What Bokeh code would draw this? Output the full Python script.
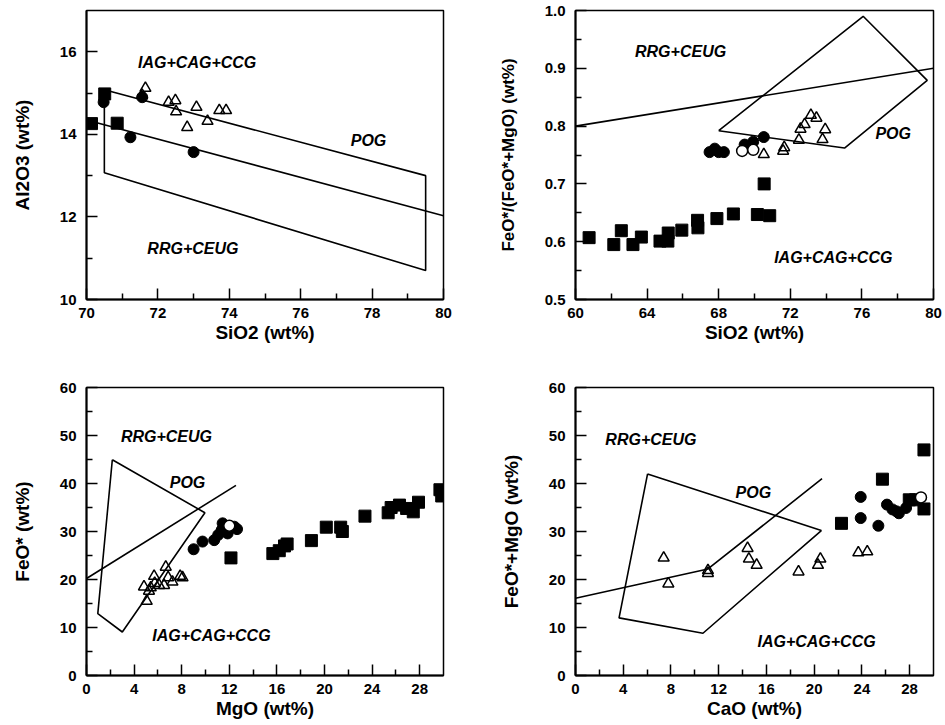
from bokeh.plotting import figure
from bokeh.layouts import column, row
from bokeh.models import FixedTicker, PrintfTickFormatter
from bokeh.core.properties import value
from bokeh.embed import file_html
from bokeh.resources import INLINE

FONT = "Liberation Sans"

# ---------------- Panel A: SiO2 vs Al2O3 ----------------
a_sq_x = [70.14, 70.51, 70.86]
a_sq_y = [14.26, 14.98, 14.27]
a_ci_x = [70.48, 71.56, 71.23, 73.0]
a_ci_y = [14.78, 14.9, 13.93, 13.57]
a_tr_x = [71.65, 71.56, 72.3, 72.49, 72.51, 73.08, 72.82, 73.39, 73.72, 73.91]
a_tr_y = [15.12, 14.95, 14.78, 14.82, 14.55, 14.66, 14.17, 14.32, 14.58, 14.58]
a_pog_x = [70.5, 79.5, 79.5, 70.5, 70.5]
a_pog_y = [15.08, 13.0, 10.7, 13.07, 15.08]
a_div_x = [70.0, 80.0]
a_div_y = [14.35, 12.03]
a_lab_x = [73.1, 77.9, 72.98]
a_lab_y = [15.75, 13.85, 11.23]
a_lab_t = ["IAG+CAG+CCG", "POG", "RRG+CEUG"]

# ---------------- Panel B: SiO2 vs FeO*/(FeO*+MgO) ----------------
b_sq_x = [60.76, 62.14, 62.56, 63.21, 63.68, 64.72, 65.16, 65.18, 65.94, 66.82, 66.84, 67.9, 68.82, 70.16, 70.85, 70.54]
b_sq_y = [0.607, 0.595, 0.619, 0.595, 0.608, 0.601, 0.601, 0.615, 0.62, 0.637, 0.624, 0.64, 0.648, 0.647, 0.645, 0.70]
b_ci_x = [67.49, 67.78, 68.0, 68.29, 69.45, 69.93, 70.52]
b_ci_y = [0.755, 0.761, 0.755, 0.755, 0.768, 0.773, 0.781]
b_oc_x = [69.31, 69.93]
b_oc_y = [0.757, 0.759]
b_tr_x = [70.52, 71.6, 71.66, 72.48, 72.57, 72.8, 73.15, 73.46, 73.95, 73.8]
b_tr_y = [0.751, 0.757, 0.763, 0.776, 0.795, 0.803, 0.819, 0.814, 0.794, 0.777]
b_pog_x = [68.0, 76.07, 79.65, 75.03, 68.0]
b_pog_y = [0.792, 0.99, 0.879, 0.762, 0.792]
b_div_x = [60.0, 80.0]
b_div_y = [0.80, 0.90]
b_lab_x = [65.87, 77.75, 74.4]
b_lab_y = [0.929, 0.788, 0.573]
b_lab_t = ["RRG+CEUG", "POG", "IAG+CAG+CCG"]

# ---------------- Panel C: MgO vs FeO* ----------------
c_sq_x = [12.14, 15.66, 16.2, 16.64, 16.86, 18.9, 20.15, 21.36, 21.5, 23.4, 25.35, 25.6, 26.3, 26.9, 27.46, 27.9, 29.7, 29.85]
c_sq_y = [24.5, 25.4, 26.0, 27.0, 27.4, 28.1, 30.9, 30.9, 30.0, 33.2, 33.9, 35.0, 35.5, 34.8, 34.1, 36.1, 38.7, 37.4]
c_ci_x = [9.0, 9.75, 10.73, 11.07, 11.44, 11.36, 11.86, 12.42, 12.65, 11.6]
c_ci_y = [26.3, 27.9, 28.2, 29.3, 31.7, 30.3, 29.6, 31.0, 30.5, 30.8]
c_oc_x = [12.0]
c_oc_y = [31.2]
c_tr_x = [6.66, 5.68, 4.83, 5.06, 6.52, 6.86, 7.22, 7.87, 8.07, 5.4, 5.73, 6.1, 5.25]
c_tr_y = [22.6, 20.7, 18.5, 15.5, 18.8, 20.4, 19.5, 20.7, 20.4, 18.3, 19.2, 18.8, 17.6]
c_pog_x = [2.17, 9.95, 3.01, 0.95, 2.17]
c_pog_y = [44.95, 33.9, 9.06, 12.9, 44.95]
c_div_x = [0.0, 12.56]
c_div_y = [20.2, 39.6]
c_lab_x = [6.72, 8.49, 10.5]
c_lab_y = [49.7, 40.3, 8.4]
c_lab_t = ["RRG+CEUG", "POG", "IAG+CAG+CCG"]

# ---------------- Panel D: CaO vs FeO*+MgO ----------------
d_sq_x = [22.29, 25.72, 29.2, 29.2, 27.97, 28.5]
d_sq_y = [31.7, 40.9, 47.0, 34.7, 36.6, 36.6]
d_ci_x = [23.9, 23.9, 25.38, 26.1, 26.56, 27.1, 27.7, 26.9]
d_ci_y = [37.2, 32.8, 31.2, 35.6, 34.6, 33.8, 34.9, 34.2]
d_oc_x = [28.95]
d_oc_y = [37.1]
d_tr_x = [7.39, 7.78, 11.1, 11.1, 14.42, 14.53, 15.18, 18.69, 20.32, 20.52, 23.7, 24.45]
d_tr_y = [24.5, 19.1, 21.9, 21.3, 26.5, 24.3, 23.0, 21.6, 23.0, 24.3, 25.6, 25.8]
d_pog_x = [6.04, 20.6, 10.68, 3.65, 6.04]
d_pog_y = [42.0, 30.2, 8.8, 12.0, 42.0]
d_div_x = [0.0, 11.1, 20.66]
d_div_y = [16.1, 22.2, 41.0]
d_lab_x = [6.32, 14.9, 20.2]
d_lab_y = [49.2, 38.2, 7.1]
d_lab_t = ["RRG+CEUG", "POG", "IAG+CAG+CCG"]


def make_fig(width, height, xr, yr, borders, xt, xmt, yt, ymt, xlab, ylab, yfmt=None, ylab_size="19px"):
    mbl, mbr, mbt, mbb = borders
    p = figure(width=width, height=height, x_range=xr, y_range=yr,
               output_backend="svg", toolbar_location=None,
               min_border_left=mbl, min_border_right=mbr,
               min_border_top=mbt, min_border_bottom=mbb)
    p.xgrid.visible = False
    p.ygrid.visible = False
    p.outline_line_color = "black"
    p.outline_line_width = 1.5
    p.background_fill_color = "white"
    p.border_fill_color = "white"
    p.xaxis.ticker = FixedTicker(ticks=xt, minor_ticks=xmt)
    p.yaxis.ticker = FixedTicker(ticks=yt, minor_ticks=ymt)
    if yfmt:
        p.yaxis.formatter = PrintfTickFormatter(format=yfmt)
    p.xaxis.axis_label = xlab
    p.yaxis.axis_label = ylab
    for ax in p.axis:
        ax.major_tick_in = 11
        ax.major_tick_out = 0
        ax.minor_tick_in = 6
        ax.minor_tick_out = 0
        ax.axis_line_width = 2
        ax.major_tick_line_width = 1.5
        ax.minor_tick_line_width = 1.5
        ax.axis_line_color = "black"
        ax.major_tick_line_color = "black"
        ax.minor_tick_line_color = "black"
        ax.major_label_text_font = FONT
        ax.major_label_text_font_size = "15px"
        ax.major_label_text_font_style = "bold"
        ax.major_label_text_color = "black"
        ax.axis_label_text_font = FONT
        ax.axis_label_text_font_size = "19px"
        ax.axis_label_text_font_style = "bold"
        ax.axis_label_text_color = "black"
    p.yaxis.axis_label_text_font_size = ylab_size
    p.xaxis.major_label_standoff = 8
    p.xaxis.axis_label_standoff = 1
    p.yaxis.major_label_standoff = 10
    p.yaxis.axis_label_standoff = 24
    return p


def draw(p, pog_x, pog_y, div_x, div_y, sq, ci, oc, tr, labs):
    p.line(pog_x, pog_y, line_color="black", line_width=1.6)
    p.line(div_x, div_y, line_color="black", line_width=1.6)
    if sq:
        p.scatter(sq[0], sq[1], marker="square", size=12, fill_color="black", line_color="black")
    if ci:
        p.scatter(ci[0], ci[1], marker="circle", size=11, fill_color="black", line_color="black")
    if oc:
        p.scatter(oc[0], oc[1], marker="circle", size=11, fill_color="white", line_color="black", line_width=1.5)
    if tr:
        p.scatter(tr[0], tr[1], marker="triangle", size=11, fill_color=None, line_color="black", line_width=1.5)
    p.text(labs[0], labs[1], text=labs[2], text_font=value(FONT), text_font_style="bold italic",
           text_font_size="16px", text_align="center", text_baseline="middle", text_color="black")


LW, RW = 488, 455
TH, BH = 374, 349
L_B = (86, 45)
R_B = (87, 10)
T_B = (10, 75)
B_B = (13, 48)

pA = make_fig(LW, TH, (70, 80), (10, 17), L_B + T_B,
              [70, 72, 74, 76, 78, 80], [71, 73, 75, 77, 79],
              [10, 12, 14, 16], [11, 13, 15],
              "SiO2 (wt%)", "Al2O3 (wt%)")
draw(pA, a_pog_x, a_pog_y, a_div_x, a_div_y, (a_sq_x, a_sq_y), (a_ci_x, a_ci_y), None,
     (a_tr_x, a_tr_y), (a_lab_x, a_lab_y, a_lab_t))

pB = make_fig(RW, TH, (60, 80), (0.5, 1.0), R_B + T_B,
              [60, 64, 68, 72, 76, 80], [62, 66, 70, 74, 78],
              [0.5, 0.6, 0.7, 0.8, 0.9, 1.0], [0.55, 0.65, 0.75, 0.85, 0.95],
              "SiO2 (wt%)", "FeO*/(FeO*+MgO) (wt%)", yfmt="%.1f", ylab_size="17px")
draw(pB, b_pog_x, b_pog_y, b_div_x, b_div_y, (b_sq_x, b_sq_y), (b_ci_x, b_ci_y), (b_oc_x, b_oc_y),
     (b_tr_x, b_tr_y), (b_lab_x, b_lab_y, b_lab_t))

pC = make_fig(LW, BH, (0, 30), (0, 60), L_B + B_B,
              [0, 4, 8, 12, 16, 20, 24, 28], [2, 6, 10, 14, 18, 22, 26],
              [0, 10, 20, 30, 40, 50, 60], [5, 15, 25, 35, 45, 55],
              "MgO (wt%)", "FeO* (wt%)")
draw(pC, c_pog_x, c_pog_y, c_div_x, c_div_y, (c_sq_x, c_sq_y), (c_ci_x, c_ci_y), (c_oc_x, c_oc_y),
     (c_tr_x, c_tr_y), (c_lab_x, c_lab_y, c_lab_t))

pD = make_fig(RW, BH, (0, 30), (0, 60), R_B + B_B,
              [0, 4, 8, 12, 16, 20, 24, 28], [2, 6, 10, 14, 18, 22, 26],
              [0, 10, 20, 30, 40, 50, 60], [5, 15, 25, 35, 45, 55],
              "CaO (wt%)", "FeO*+MgO (wt%)")
draw(pD, d_pog_x, d_pog_y, d_div_x, d_div_y, (d_sq_x, d_sq_y), (d_ci_x, d_ci_y), (d_oc_x, d_oc_y),
     (d_tr_x, d_tr_y), (d_lab_x, d_lab_y, d_lab_t))

layout = column(row(pA, pB), row(pC, pD))

with open("out.html", "w") as f:
    f.write(file_html(layout, INLINE))
